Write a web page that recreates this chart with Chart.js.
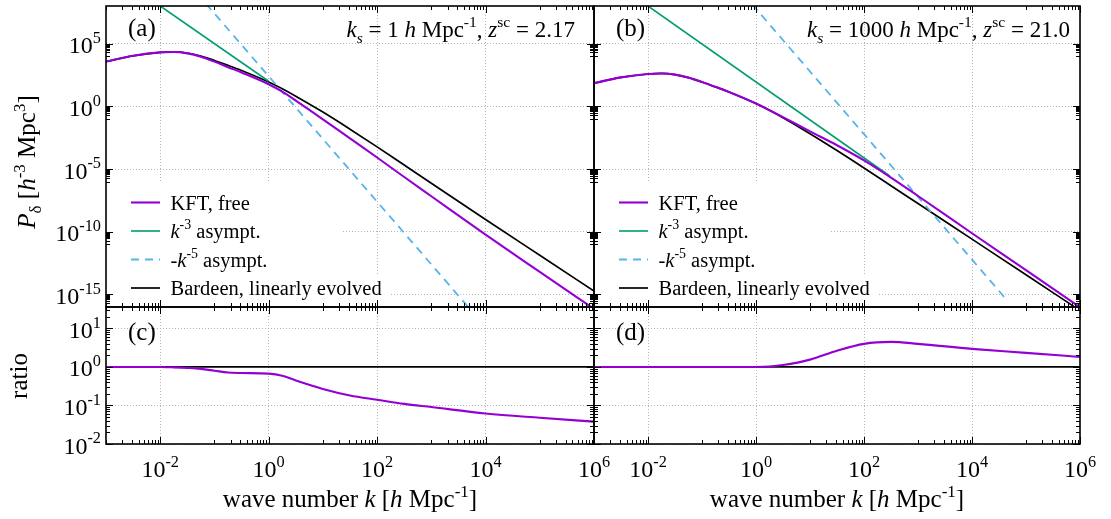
<!DOCTYPE html>
<html>
<head>
<meta charset="utf-8">
<script src="https://cdn.jsdelivr.net/npm/chart.js@4.4.1/dist/chart.umd.min.js"></script>
<style>
  html, body { margin: 0; padding: 0; background: #fff; }
  #wrap { position: relative; width: 1111px; height: 519px; }
  #wrap canvas { position: absolute; left: 0; top: 0; }
</style>
</head>
<body>
<div id="wrap">
  <canvas id="pa" width="1111" height="519"></canvas>
  <canvas id="pb" width="1111" height="519"></canvas>
  <canvas id="pc" width="1111" height="519"></canvas>
  <canvas id="pd" width="1111" height="519"></canvas>
</div>
<script>
const kVals = [1e-3, 3.16e-3, 1e-2, 1.78e-2, 3.16e-2, 5.62e-2, 0.1, 0.178, 0.316, 1,
               1.78, 3.16, 10, 31.6, 100, 316, 1e3, 1e4, 1e5, 1e6];

// panel (a)/(c): k_s = 1, z_sc = 2.17
const kftA     = [3.72e3, 1.07e4, 2.0e4, 2.14e4, 1.67e4, 9.1e3, 3.66e3, 1.33e3, 505, 58.3,
                  14.8, 2.88, 9.3e-2, 2.75e-3, 8.3e-5, 2.31e-6, 6.76e-8, 5.9e-11, 6.3e-14, 7.1e-17];
const bardeenA = [3.72e3, 1.07e4, 2.0e4, 2.19e4, 1.78e4, 1.02e4, 4.57e3, 1.86e3, 724, 87,
                  25.1, 6.46, 0.347, 1.51e-2, 5.89e-4, 2.09e-5, 7.41e-7, 9.55e-10, 1.32e-12, 1.86e-15];
const ratioA   = [1, 1, 1, 0.977, 0.942, 0.891, 0.80, 0.716, 0.697, 0.67,
                  0.59, 0.447, 0.269, 0.182, 0.141, 0.11, 0.091, 0.062, 0.048, 0.038];

// panel (b)/(d): k_s = 1000, z_sc = 21.0
const kftB     = [70.8, 204, 380, 417, 339, 195, 87.1, 35.5, 13.8, 1.66,
                  0.49, 0.138, 1.02e-2, 7.94e-4, 4.9e-5, 2.09e-6, 7.08e-8, 7.59e-11, 8.6e-14, 9.55e-17];
const bardeenB = [70.8, 204, 380, 417, 339, 195, 87.1, 35.5, 13.8, 1.66,
                  0.479, 0.123, 6.6e-3, 3.02e-4, 1.23e-5, 4.68e-7, 1.78e-8, 2.57e-11, 3.72e-14, 5.25e-17];
const ratioB   = [1, 1, 1, 1, 1, 1, 1, 1, 1, 1,
                  1.028, 1.12, 1.55, 2.63, 3.98, 4.47, 3.98, 2.95, 2.32, 1.82];

// asymptotes (straight lines in log-log, end points only)
const k3A_k = [0.01, 1],      k3A_P = [1e8, 100];
const k5A_k = [0.07, 5000],   k5A_P = [1.5e8, 8e-17];
const k3B_k = [0.01, 300],    k3B_P = [1e8, 2.8e-6];
const k5B_k = [0.85, 4e4],    k5B_P = [1.36e8, 5.9e-16];
// Bardeen / Bardeen
const unityK = [1e-3, 1e6],   unityR = [1, 1];

// tick label exponents (also where the grid lines go)
const xTickExp    = [-2, 0, 2, 4, 6];
const yTickExpTop = [5, 0, -5, -10, -15];
const yTickExpBot = [1, 0, -1, -2];

const FONT = '"Liberation Serif", "Times New Roman", serif';
const PURPLE = '#9400d3', GREEN = '#009e73', BLUE = '#56b4e9';

const legendParts = [
  [{t: 'KFT, free'}],
  [{t: 'k', i: true}, {t: '-3', sup: true}, {t: ' asympt.'}],
  [{t: '-'}, {t: 'k', i: true}, {t: '-5', sup: true}, {t: ' asympt.'}],
  [{t: 'Bardeen, linearly evolved'}]
];

function pts(xs, ys) { return xs.map((x, i) => ({x: x, y: ys[i]})); }

function line(label, xs, ys, color, width, dash) {
  return {
    label: label, data: pts(xs, ys), borderColor: color, borderWidth: width,
    borderDash: dash || [], pointRadius: 0, fill: false,
    cubicInterpolationMode: 'monotone', clip: 0
  };
}

// major ticks every `step` decades, minor ones at m*10^(n-1) below each major
function logTickList(min, max, step) {
  const out = [];
  const lo = Math.floor(Math.log10(min)) - step, hi = Math.ceil(Math.log10(max)) + step;
  const inside = v => v >= min * 0.999 && v <= max * 1.001;
  for (let n = lo; n <= hi; n++) {
    if (((n % step) + step) % step !== 0) continue;
    const major = Math.pow(10, n);
    if (inside(major)) out.push({v: major, len: 7});
    for (let m = (step === 1 ? 2 : 1); m <= 9; m++) {
      const v = m * Math.pow(10, n - 1);
      if (inside(v)) out.push({v: v, len: 4});
    }
  }
  return out;
}

function drawRich(ctx, parts, x, y, size, align) {
  const segs = parts.map(p => {
    const s = (p.sup || p.sub) ? size * 0.68 : size;
    const f = (p.i ? 'italic ' : '') + s.toFixed(1) + 'px ' + FONT;
    ctx.font = f;
    return {t: p.t, f: f, w: ctx.measureText(p.t).width,
            dy: p.sup ? -size * 0.42 : (p.sub ? size * 0.25 : 0)};
  });
  const total = segs.reduce((a, s) => a + s.w, 0);
  let cx = align === 'right' ? x - total : (align === 'center' ? x - total / 2 : x);
  ctx.textAlign = 'left';
  ctx.textBaseline = 'alphabetic';
  segs.forEach(s => { ctx.font = s.f; ctx.fillText(s.t, cx, y + s.dy); cx += s.w; });
  return total;
}

function pow10(e) { return [{t: '10'}, {t: String(e), sup: true}]; }

function decor(cfg) {
  return {
    id: 'decor',
    beforeDatasetsDraw(chart) {
      if (!cfg.legend) return;
      const ctx = chart.ctx, a = chart.chartArea;
      ctx.save();
      ctx.fillStyle = '#fff';
      ctx.fillRect(a.left + 1, 181, 236, 93);
      ctx.fillRect(a.left + 1, 274, 282, a.bottom - 275);
      ctx.restore();
    },
    afterDraw(chart) {
      const ctx = chart.ctx, a = chart.chartArea;
      const xs = chart.scales.x, ys = chart.scales.y;
      ctx.save();
      ctx.strokeStyle = '#000';
      ctx.fillStyle = '#000';

      // inward ticks on all four sides
      ctx.lineWidth = 1;
      ctx.beginPath();
      cfg.xTicks.forEach(t => {
        const p = Math.round(xs.getPixelForValue(t.v)) + 0.5;
        ctx.moveTo(p, a.bottom); ctx.lineTo(p, a.bottom - t.len);
        ctx.moveTo(p, a.top); ctx.lineTo(p, a.top + t.len);
      });
      cfg.yTicks.forEach(t => {
        const p = Math.round(ys.getPixelForValue(t.v)) + 0.5;
        ctx.moveTo(a.left, p); ctx.lineTo(a.left + t.len, p);
        ctx.moveTo(a.right, p); ctx.lineTo(a.right - t.len, p);
      });
      ctx.stroke();

      // frame
      ctx.lineWidth = 1.6;
      ctx.strokeRect(a.left, a.top, a.right - a.left, a.bottom - a.top);

      // tick labels
      if (cfg.yLabels) {
        cfg.yLabels.forEach(e => {
          drawRich(ctx, pow10(e), a.left - 5, ys.getPixelForValue(Math.pow(10, e)) + 9.5, 24, 'right');
        });
      }
      if (cfg.xLabels) {
        cfg.xLabels.forEach(e => {
          drawRich(ctx, pow10(e), xs.getPixelForValue(Math.pow(10, e)), a.bottom + 33, 24, 'center');
        });
        drawRich(ctx, [{t: 'wave number '}, {t: 'k', i: true}, {t: ' ['}, {t: 'h', i: true},
                       {t: ' Mpc'}, {t: '-1', sup: true}, {t: ']'}],
                 (a.left + a.right) / 2, 507, 25, 'center');
      }
      if (cfg.yTitle) {
        ctx.save();
        ctx.translate(cfg.yTitle.x, cfg.yTitle.y);
        ctx.rotate(-Math.PI / 2);
        drawRich(ctx, cfg.yTitle.parts, 0, 0, 25, 'center');
        ctx.restore();
      }

      // panel tag and parameter note
      drawRich(ctx, [{t: cfg.tag}], a.left + 22, cfg.tagY, 25, 'left');
      if (cfg.note) drawRich(ctx, cfg.note, cfg.noteX, 37, 23, 'right');

      // key
      if (cfg.legend) {
        chart.data.datasets.forEach((ds, i) => {
          const yc = 202.5 + i * 28.5;
          ctx.save();
          ctx.strokeStyle = ds.borderColor;
          ctx.lineWidth = ds.borderWidth;
          ctx.setLineDash(ds.borderDash);
          ctx.beginPath();
          ctx.moveTo(a.left + 25, yc); ctx.lineTo(a.left + 54, yc);
          ctx.stroke();
          ctx.restore();
          drawRich(ctx, legendParts[i], a.left + 64.5, yc + 7, 20.5, 'left');
        });
      }
      ctx.restore();
    }
  };
}

function panel(id, box, yMin, yMax, yGrid, yStep, datasets, cfg) {
  cfg.xTicks = logTickList(1e-3, 1e6, 2);
  cfg.yTicks = logTickList(yMin, yMax, yStep);
  return new Chart(document.getElementById(id), {
    type: 'line',
    data: {datasets: datasets},
    options: {
      responsive: false,
      animation: false,
      devicePixelRatio: 1,
      layout: {padding: {left: box.l, top: box.t, right: 1111 - box.r, bottom: 519 - box.b}},
      plugins: {legend: {display: false}, tooltip: {enabled: false}},
      scales: {
        x: {
          type: 'logarithmic', min: 1e-3, max: 1e6,
          ticks: {display: false},
          grid: {color: '#b4b4b4', lineWidth: 1, drawTicks: false},
          border: {display: false, dash: [1, 2]},
          afterBuildTicks: s => { s.ticks = xTickExp.map(e => ({value: Math.pow(10, e)})); },
          afterFit: s => { s.height = 0; }
        },
        y: {
          type: 'logarithmic', min: yMin, max: yMax,
          ticks: {display: false},
          grid: {color: '#b4b4b4', lineWidth: 1, drawTicks: false},
          border: {display: false, dash: [1, 2]},
          afterBuildTicks: s => { s.ticks = yGrid.map(e => ({value: Math.pow(10, e)})); },
          afterFit: s => { s.width = 0; }
        }
      }
    },
    plugins: [decor(cfg)]
  });
}

const topBoxA = {l: 106, t: 6, r: 594, b: 307};
const topBoxB = {l: 594, t: 6, r: 1080, b: 307};
const botBoxC = {l: 106, t: 307, r: 594, b: 444};
const botBoxD = {l: 594, t: 307, r: 1080, b: 444};

panel('pa', topBoxA, 1e-16, 1e8, yTickExpTop, 5, [
  line('KFT, free', kVals, kftA, PURPLE, 2.1),
  line('k^-3 asympt.', k3A_k, k3A_P, GREEN, 1.6),
  line('-k^-5 asympt.', k5A_k, k5A_P, BLUE, 1.8, [8, 6]),
  line('Bardeen, linearly evolved', kVals, bardeenA, '#000', 1.7)
], {
  tag: '(a)', tagY: 36, legend: true, yLabels: yTickExpTop,
  note: [{t: 'k', i: true}, {t: 's', i: true, sub: true}, {t: ' = 1 '}, {t: 'h', i: true},
         {t: ' Mpc'}, {t: '-1', sup: true}, {t: ', '}, {t: 'z', i: true}, {t: 'sc', sup: true},
         {t: ' = 2.17'}],
  noteX: 575,
  yTitle: {x: 35, y: 162, parts: [{t: 'P', i: true}, {t: 'δ', sub: true}, {t: ' ['}, {t: 'h', i: true},
                                  {t: '-3', sup: true}, {t: ' Mpc'}, {t: '3', sup: true}, {t: ']'}]}
});

panel('pb', topBoxB, 1e-16, 1e8, yTickExpTop, 5, [
  line('KFT, free', kVals, kftB, PURPLE, 2.1),
  line('k^-3 asympt.', k3B_k, k3B_P, GREEN, 1.6),
  line('-k^-5 asympt.', k5B_k, k5B_P, BLUE, 1.8, [8, 6]),
  line('Bardeen, linearly evolved', kVals, bardeenB, '#000', 1.7)
], {
  tag: '(b)', tagY: 36, legend: true,
  note: [{t: 'k', i: true}, {t: 's', i: true, sub: true}, {t: ' = 1000 '}, {t: 'h', i: true},
         {t: ' Mpc'}, {t: '-1', sup: true}, {t: ', '}, {t: 'z', i: true}, {t: 'sc', sup: true},
         {t: ' = 21.0'}],
  noteX: 1070
});

panel('pc', botBoxC, 1e-2, 36, yTickExpBot, 1, [
  line('KFT / Bardeen', kVals, ratioA, PURPLE, 2.1),
  line('Bardeen / Bardeen', unityK, unityR, '#000', 1.7)
], {
  tag: '(c)', tagY: 340, yLabels: yTickExpBot, xLabels: xTickExp,
  yTitle: {x: 27, y: 376, parts: [{t: 'ratio'}]}
});

panel('pd', botBoxD, 1e-2, 36, yTickExpBot, 1, [
  line('KFT / Bardeen', kVals, ratioB, PURPLE, 2.1),
  line('Bardeen / Bardeen', unityK, unityR, '#000', 1.7)
], {
  tag: '(d)', tagY: 340, xLabels: xTickExp
});
</script>
</body>
</html>
